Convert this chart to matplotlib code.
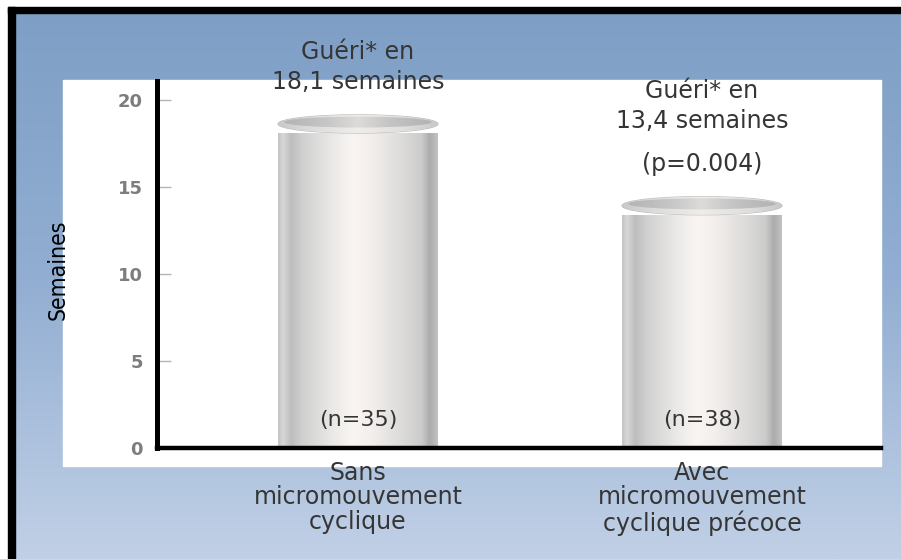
import numpy as np
import matplotlib
matplotlib.use("Agg")
import matplotlib.pyplot as plt
from matplotlib.colors import LinearSegmentedColormap
from matplotlib.patches import Rectangle, Ellipse
from matplotlib import font_manager

# ---------------- data ----------------
categories = ["Sans\nmicromouvement\ncyclique", "Avec\nmicromouvement\ncyclique précoce"]
weeks = [18.1, 13.4]
headlines = [["Guéri* en", "18,1 semaines"], ["Guéri* en", "13,4 semaines"]]
notes = ["", "(p=0.004)"]
n_labels = ["(n=35)", "(n=38)"]
yticks = [0, 5, 10, 15, 20]
ylabel = "Semaines"

# ---------------- figure ----------------
W, H, DPI = 901, 559, 100
fig = plt.figure(figsize=(W / DPI, H / DPI), dpi=DPI)

fl = font_manager.fontManager.ttflist
has_cond = any(f.name == "DejaVu Sans" and f.stretch not in ("normal", 500) for f in fl)
main_font = "DejaVu Sans"
TXT = "#353535"


def px_rect(x0, y0, x1, y1, **kw):
    return Rectangle((x0 / W, 1 - y1 / H), (x1 - x0) / W, (y1 - y0) / H, **kw)


# background slide
bg = fig.add_axes([0, 0, 1, 1], zorder=-10)
bg.set_axis_off()
grad = np.linspace(0, 1, 256).reshape(-1, 1)
bg_cmap = LinearSegmentedColormap.from_list("bg", ["#7e9ec5", "#92aed2", "#c1d0e6"])
bg.imshow(grad, cmap=bg_cmap, aspect="auto", extent=[0, 1, 0, 1], origin="upper")
bg.set_xlim(0, 1)
bg.set_ylim(0, 1)
for r in [px_rect(0, 0, W, 7, color="white"), px_rect(0, 0, 8, H, color="white"),
          px_rect(8, 7, W, 13, color="black"), px_rect(8, 7, 15, H, color="black"),
          px_rect(63, 80, 881, 466, color="white")]:
    r.set_transform(bg.transAxes)
    bg.add_patch(r)

# main axes
ax = fig.add_axes([157 / W, 1 - 448 / H, (881 - 157) / W, (448 - 81) / H])
ax.set_facecolor("none")
x = np.arange(len(categories))
bar_w = 0.465
bars = ax.bar(x, weeks, width=bar_w, color="none", edgecolor="none", zorder=2)

cyl_cmap = LinearSegmentedColormap.from_list("cyl", [
    (0.0, "#c4c4c4"), (0.03, "#d8d8d8"), (0.08, "#bdbdbd"), (0.15, "#d0d0d0"),
    (0.35, "#ebeae8"), (0.47, "#faf5f2"), (0.58, "#f3efed"), (0.78, "#dcdbda"),
    (0.9, "#cbcbcb"), (0.95, "#acacac"), (1.0, "#c2c2c2")])
cap_out = LinearSegmentedColormap.from_list("capo", [
    (0.0, "#c8c8c8"), (0.2, "#dcdcdc"), (0.5, "#efedeb"), (0.8, "#dedede"), (1.0, "#c8c8c8")])
cap_in = LinearSegmentedColormap.from_list("capi", [
    (0.0, "#b0b0b0"), (0.3, "#c6c6c6"), (0.5, "#dddbd9"), (0.7, "#c4c4c4"), (1.0, "#b0b0b0")])
prof = np.linspace(0, 1, 256).reshape(1, -1)
cap_h = 1.05

for rect in bars:
    x0, w, h = rect.get_x(), rect.get_width(), rect.get_height()
    xc = x0 + w / 2
    im = ax.imshow(prof, cmap=cyl_cmap, extent=[x0, x0 + w, 0, h], aspect="auto",
                   interpolation="bicubic", zorder=2)
    im.set_clip_path(rect)
    e_out = Ellipse((xc, h + cap_h / 2), w, cap_h, facecolor="none",
                    edgecolor="#bdbdbd", lw=0.8, zorder=3)
    ax.add_patch(e_out)
    im2 = ax.imshow(prof, cmap=cap_out, extent=[x0, x0 + w, h, h + cap_h], aspect="auto",
                    interpolation="bicubic", zorder=3)
    im2.set_clip_path(e_out)
    e_in = Ellipse((xc, h + cap_h * 0.6), w * 0.92, cap_h * 0.6, facecolor="none",
                   edgecolor="none", zorder=4)
    ax.add_patch(e_in)
    im3 = ax.imshow(prof, cmap=cap_in, extent=[x0, x0 + w, h, h + cap_h], aspect="auto",
                    interpolation="bicubic", zorder=4)
    im3.set_clip_path(e_in)

PT = 72 / DPI
for xi, v, lines, note, nl in zip(x, weeks, headlines, notes, n_labels):
    base = 51
    if note:
        ax.annotate(note, xy=(xi, v), xytext=(0, base * PT), textcoords="offset points",
                    ha="center", va="center", fontsize=17, color=TXT, family=main_font,
                    zorder=6)
        base += 43
    for k, line in enumerate(reversed(lines)):
        ax.annotate(line, xy=(xi, v), xytext=(0, (base + 30 * k) * PT),
                    textcoords="offset points", ha="center", va="center", fontsize=17,
                    color=TXT, family=main_font, zorder=6, annotation_clip=False)
    ax.annotate(nl, xy=(xi, 0), xytext=(0, 28 * PT), textcoords="offset points",
                ha="center", va="center", fontsize=16, color=TXT, family=main_font, zorder=6)

ax.set_xlim(-(358 - 157) / 344, (881 - 358) / 344)
ax.set_ylim(0, (448 - 81) / 17.4)
ax.set_yticks(yticks)
ax.tick_params(axis="y", direction="in", length=10, width=1, color="#b5b5b5",
               labelcolor="#7d7d7d", labelsize=13, pad=10)
for t in ax.get_yticklabels():
    t.set_fontweight("bold")
ax.set_xticks(x)
ax.set_xticklabels(categories, fontsize=17, color=TXT, family=main_font, linespacing=1.05)
ax.tick_params(axis="x", length=0, pad=9)
for s in ["top", "right"]:
    ax.spines[s].set_visible(False)
ax.spines["left"].set_linewidth(3.6)
ax.spines["bottom"].set_linewidth(3.2)
ax.spines["left"].set_zorder(5)
ax.spines["bottom"].set_zorder(5)

if has_cond:
    fig.text(58 / W, 1 - 270 / H, ylabel, rotation=90, ha="center", va="center",
             fontsize=16.5, family="DejaVu Sans", fontstretch="condensed", color="black")
else:
    fig.text(58 / W, 1 - 270 / H, ylabel, rotation=90, ha="center", va="center",
             fontsize=15, family="DejaVu Sans", color="black")

fig.savefig("out.png", dpi=DPI)
